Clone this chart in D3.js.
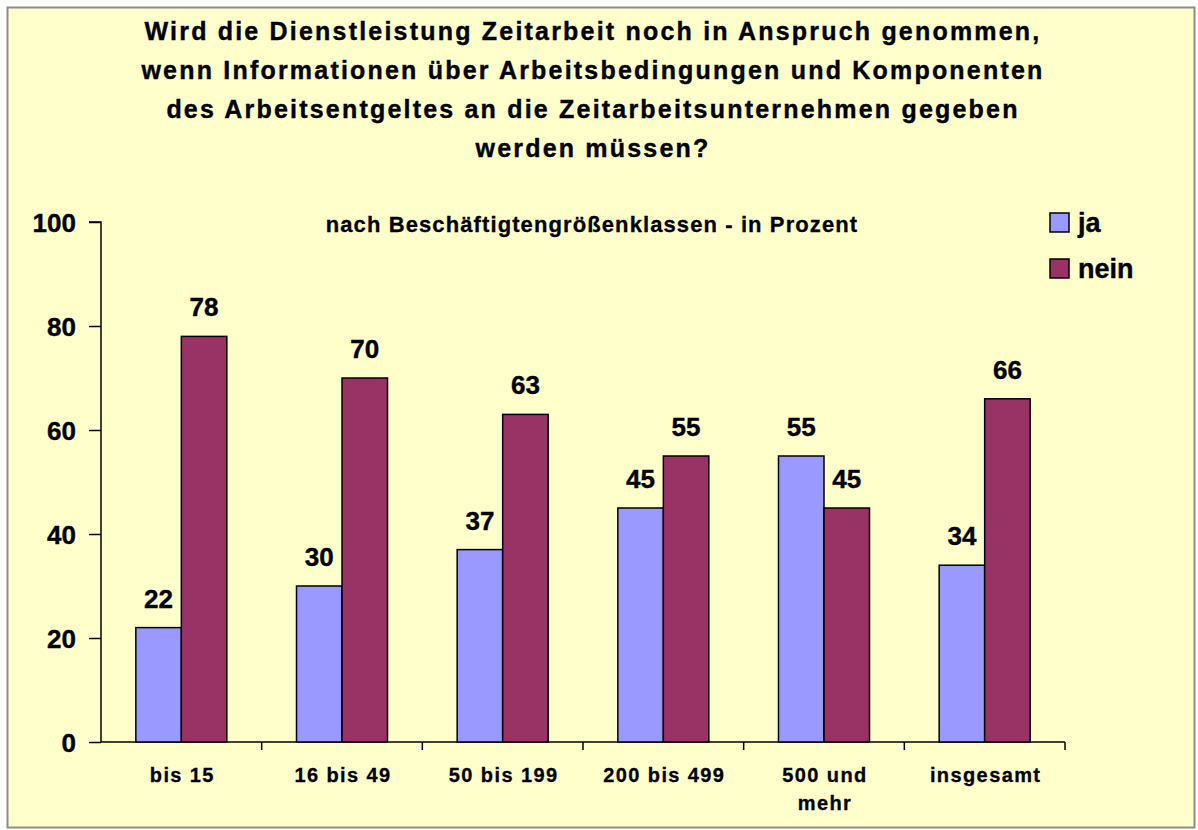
<!DOCTYPE html>
<html lang="de">
<head>
<meta charset="utf-8">
<title>Zeitarbeit</title>
<script src="https://d3js.org/d3.v7.min.js"></script>
<style>
  body { margin: 0; background: #fff; }
  text { font-family: "Liberation Sans", Arial, sans-serif; font-weight: bold; fill: #000; }
</style>
</head>
<body>
<svg width="1198" height="830"></svg>
<script>
// data
var categories = [["bis 15"], ["16 bis 49"], ["50 bis 199"], ["200 bis 499"], ["500 und", "mehr"], ["insgesamt"]];
var ja = [22, 30, 37, 45, 55, 34];
var nein = [78, 70, 63, 55, 45, 66];
var yTicks = [0, 20, 40, 60, 80, 100];
var seriesNames = ["ja", "nein"];
var seriesColors = ["#9999ff", "#993366"];
var titleLines = [
  "Wird die Dienstleistung Zeitarbeit noch in Anspruch genommen,",
  "wenn Informationen über Arbeitsbedingungen und Komponenten",
  "des Arbeitsentgeltes an die Zeitarbeitsunternehmen gegeben",
  "werden müssen?"
];
var subtitle = "nach Beschäftigtengrößenklassen - in Prozent";

var svg = d3.select("svg");

// frame
svg.append("rect")
  .attr("x", 7.5).attr("y", 7.5)
  .attr("width", 1187).attr("height", 820)
  .attr("fill", "#ffffcc")
  .attr("stroke", "#8c8c8c")
  .attr("stroke-width", 2);

// title
svg.append("g").selectAll("text")
  .data(titleLines)
  .enter()
  .append("text")
  .attr("x", 593)
  .attr("y", (d, i) => 40 + i * 39)
  .attr("text-anchor", "middle")
  .style("font-size", "25px")
  .style("letter-spacing", "2.2px")
  .style("stroke", "#000")
  .style("stroke-width", "0.4px")
  .text(d => d);

svg.append("text")
  .attr("x", 592)
  .attr("y", 232)
  .attr("text-anchor", "middle")
  .style("font-size", "22px")
  .style("letter-spacing", "1.1px")
  .style("stroke", "#000")
  .style("stroke-width", "0.3px")
  .text(subtitle);

// scales
var x0 = d3.scaleBand()
  .domain(d3.range(categories.length))
  .range([101, 1065]);

var y = d3.scaleLinear()
  .domain([0, 100])
  .range([742, 222]);

var barW = 45.5;

// axes
var yAxis = svg.append("g")
  .attr("transform", "translate(101,0)")
  .call(d3.axisLeft(y).tickValues(yTicks).tickSize(12).tickPadding(13));
yAxis.select(".domain").attr("stroke", "#000").attr("stroke-width", 1.5)
  .attr("d", "M-12," + y(100) + "H0V" + y(0));
yAxis.selectAll(".tick line").attr("stroke", "#000").attr("stroke-width", 1.5);
yAxis.selectAll(".tick text")
  .style("font-size", "26px")
  .style("font-family", "'Liberation Sans', Arial, sans-serif")
  .style("font-weight", "bold")
  .style("stroke", "#000")
  .style("stroke-width", "0.4px")
  .attr("fill", "#000")
  .attr("dy", "0.36em");

var xAxis = svg.append("g")
  .attr("transform", "translate(0,742)")
  .call(d3.axisBottom(x0).tickValues([]).tickSizeOuter(0));
xAxis.select(".domain").attr("stroke", "#000").attr("stroke-width", 1.5)
  .attr("d", "M101,0H1065");
// category separators
xAxis.selectAll(".sep")
  .data(d3.range(1, categories.length + 1))
  .enter()
  .append("line")
  .attr("x1", d => 101 + d * x0.bandwidth())
  .attr("x2", d => 101 + d * x0.bandwidth())
  .attr("y1", 0).attr("y2", 8)
  .attr("stroke", "#000").attr("stroke-width", 1.5);

// x labels
svg.append("g").selectAll("text")
  .data(categories)
  .enter()
  .append("text")
  .attr("x", (d, i) => x0(i) + x0.bandwidth() / 2 + 1)
  .attr("y", 782)
  .attr("text-anchor", "middle")
  .style("font-size", "20px")
  .style("letter-spacing", "1.4px")
  .style("stroke", "#000")
  .style("stroke-width", "0.3px")
  .each(function(d) {
    var t = d3.select(this);
    d.forEach(function(line, j) {
      t.append("tspan")
        .attr("x", t.attr("x"))
        .attr("dy", j === 0 ? 0 : 28)
        .text(line);
    });
  });

// bars
var series = [ja, nein];
var bars = svg.append("g");
series.forEach(function(vals, s) {
  bars.selectAll(".bar" + s)
    .data(vals)
    .enter()
    .append("rect")
    .attr("x", (d, i) => x0(i) + x0.bandwidth() / 2 - barW + s * barW)
    .attr("y", d => y(d))
    .attr("width", barW)
    .attr("height", d => y(0) - y(d))
    .attr("fill", seriesColors[s])
    .attr("stroke", "#000")
    .attr("stroke-width", 1.5);

  bars.selectAll(".lab" + s)
    .data(vals)
    .enter()
    .append("text")
    .attr("x", (d, i) => x0(i) + x0.bandwidth() / 2 - barW / 2 + s * barW)
    .attr("y", d => y(d) - 20)
    .attr("text-anchor", "middle")
    .style("font-size", "26px")
    .style("stroke", "#000")
    .style("stroke-width", "0.4px")
    .text(d => d);
});

// legend
var legend = svg.append("g").selectAll("g")
  .data(seriesNames)
  .enter()
  .append("g")
  .attr("transform", (d, i) => "translate(1050," + (213 + i * 46) + ")");
legend.append("rect")
  .attr("width", 19).attr("height", 19)
  .attr("fill", (d, i) => seriesColors[i])
  .attr("stroke", "#000").attr("stroke-width", 1.5);
legend.append("text")
  .attr("x", 28).attr("y", 19)
  .style("font-size", "27px")
  .style("stroke", "#000")
  .style("stroke-width", "0.4px")
  .text(d => d);
</script>
</body>
</html>
